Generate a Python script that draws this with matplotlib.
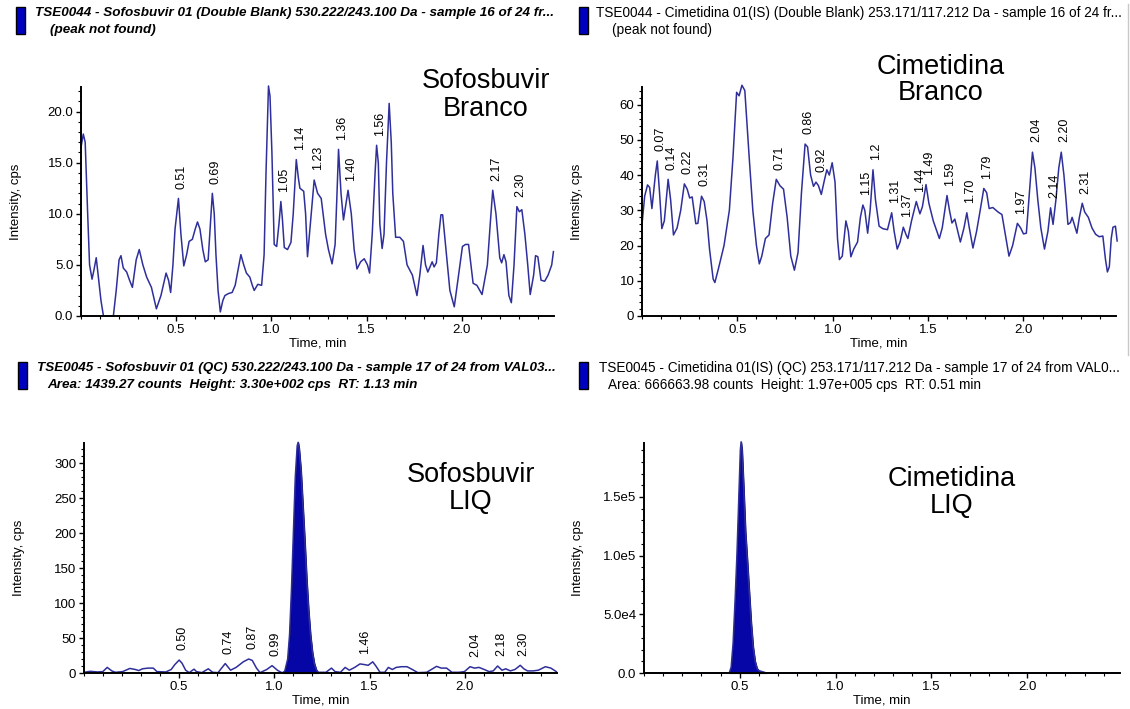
import numpy as np
import matplotlib.pyplot as plt
from matplotlib.patches import Rectangle
from matplotlib.lines import Line2D
from matplotlib.ticker import FixedLocator, MultipleLocator, FuncFormatter

plt.rcParams['font.family'] = ['Liberation Sans', 'DejaVu Sans']

# --- Sofosbuvir branco (double blank) ---
sof_branco_t = [0.000, 0.012, 0.022, 0.035, 0.045, 0.058, 0.068, 0.080, 0.090, 0.105, 0.118, 0.170,
                0.185, 0.200, 0.210, 0.222, 0.240, 0.255, 0.270, 0.290, 0.306, 0.325, 0.345, 0.370,
                0.396, 0.420, 0.447, 0.460, 0.471, 0.483, 0.494, 0.512, 0.525, 0.540, 0.555, 0.568,
                0.585, 0.600, 0.612, 0.625, 0.640, 0.653, 0.668, 0.680, 0.690, 0.700, 0.709, 0.720,
                0.732, 0.745, 0.756, 0.775, 0.794, 0.810, 0.825, 0.840, 0.855, 0.869, 0.887, 0.900,
                0.910, 0.929, 0.949, 0.962, 0.972, 0.985, 0.993, 1.003, 1.015, 1.028, 1.040, 1.050,
                1.058, 1.068, 1.085, 1.103, 1.115, 1.131, 1.142, 1.150, 1.170, 1.180, 1.190, 1.205,
                1.225, 1.243, 1.262, 1.285, 1.300, 1.319, 1.335, 1.345, 1.353, 1.366, 1.379, 1.392,
                1.403, 1.420, 1.435, 1.450, 1.469, 1.488, 1.505, 1.516, 1.530, 1.545, 1.553, 1.562,
                1.570, 1.582, 1.592, 1.605, 1.619, 1.630, 1.638, 1.653, 1.675, 1.694, 1.713, 1.741,
                1.765, 1.780, 1.797, 1.810, 1.822, 1.845, 1.855, 1.867, 1.880, 1.891, 1.900, 1.920,
                1.938, 1.961, 1.980, 2.004, 2.020, 2.036, 2.060, 2.080, 2.107, 2.135, 2.150, 2.163,
                2.180, 2.200, 2.210, 2.222, 2.233, 2.248, 2.261, 2.275, 2.290, 2.303, 2.316, 2.332,
                2.347, 2.360, 2.378, 2.388, 2.400, 2.417, 2.436, 2.454, 2.473, 2.482]
sof_branco_i = [16.5, 17.8, 17.0, 10.0, 5.0, 3.6, 4.5, 5.7, 4.0, 1.5, 0.0, 0.0,
                2.5, 5.5, 5.9, 4.7, 4.3, 3.5, 2.8, 5.5, 6.5, 5.0, 3.8, 2.8,
                0.7, 2.0, 4.2, 3.5, 2.3, 5.0, 8.5, 11.5, 8.0, 4.9, 6.0, 7.3,
                7.5, 8.5, 9.2, 8.5, 6.5, 5.3, 5.5, 9.0, 12.0, 10.0, 6.0, 2.5,
                0.4, 1.5, 2.0, 2.2, 2.3, 3.0, 4.5, 6.0, 5.0, 4.2, 3.8, 3.0,
                2.5, 3.1, 3.0, 6.0, 14.0, 22.5, 21.5, 16.0, 7.0, 6.8, 9.0, 11.2,
                9.5, 6.7, 6.5, 7.2, 10.0, 15.3, 13.5, 12.5, 12.2, 10.0, 5.8, 9.0,
                13.3, 12.0, 11.5, 8.0, 6.5, 5.1, 7.0, 12.0, 16.3, 12.0, 9.4, 11.0,
                12.3, 10.0, 6.5, 4.6, 5.3, 5.6, 5.0, 4.2, 8.0, 14.0, 16.7, 15.0,
                9.0, 6.6, 8.0, 15.0, 20.8, 17.0, 12.0, 7.7, 7.7, 7.3, 5.0, 4.0,
                2.0, 4.0, 6.9, 5.0, 4.3, 5.3, 4.8, 5.2, 8.0, 9.9, 9.9, 6.0,
                2.5, 0.9, 3.5, 6.8, 7.0, 7.0, 3.2, 3.0, 2.1, 5.0, 9.0, 12.3,
                10.0, 5.7, 5.2, 6.0, 5.3, 2.0, 1.3, 5.0, 10.7, 10.2, 10.4, 8.0,
                5.0, 2.1, 4.0, 5.9, 5.8, 3.5, 3.4, 4.0, 5.0, 6.3]
sof_branco_lbl = ['0.51', '0.69', '1.05', '1.14', '1.23', '1.36', '1.40', '1.56', '2.17', '2.30']
sof_branco_lbl_t = [0.512, 0.690, 1.050, 1.131, 1.225, 1.353, 1.403, 1.553, 2.163, 2.290]
sof_branco_lbl_i = [11.5, 12.0, 11.2, 15.3, 13.3, 16.3, 12.3, 16.7, 12.3, 10.7]

# --- Cimetidina branco (double blank) ---
cim_branco_t = [0.000, 0.014, 0.029, 0.040, 0.052, 0.070, 0.080, 0.092, 0.104, 0.117, 0.137, 0.150,
                0.165, 0.184, 0.203, 0.222, 0.237, 0.250, 0.263, 0.282, 0.293, 0.312, 0.326, 0.341,
                0.354, 0.373, 0.382, 0.401, 0.430, 0.458, 0.477, 0.496, 0.509, 0.524, 0.539, 0.562,
                0.581, 0.600, 0.615, 0.628, 0.647, 0.666, 0.685, 0.704, 0.723, 0.742, 0.761, 0.780,
                0.799, 0.818, 0.836, 0.855, 0.868, 0.884, 0.899, 0.912, 0.925, 0.940, 0.956, 0.969,
                0.982, 0.997, 1.012, 1.025, 1.035, 1.050, 1.069, 1.082, 1.095, 1.110, 1.130, 1.145,
                1.158, 1.168, 1.183, 1.196, 1.211, 1.224, 1.243, 1.262, 1.287, 1.309, 1.322, 1.338,
                1.353, 1.370, 1.385, 1.394, 1.413, 1.438, 1.457, 1.470, 1.489, 1.504, 1.527, 1.546,
                1.559, 1.574, 1.599, 1.612, 1.625, 1.640, 1.669, 1.688, 1.703, 1.716, 1.735, 1.754,
                1.773, 1.792, 1.807, 1.820, 1.839, 1.867, 1.887, 1.905, 1.924, 1.943, 1.968, 1.985,
                2.000, 2.015, 2.028, 2.047, 2.060, 2.075, 2.091, 2.110, 2.128, 2.142, 2.155, 2.170,
                2.185, 2.198, 2.212, 2.223, 2.233, 2.246, 2.255, 2.269, 2.280, 2.293, 2.308, 2.321,
                2.340, 2.359, 2.378, 2.397, 2.416, 2.430, 2.440, 2.450, 2.460, 2.469, 2.482, 2.491]
cim_branco_i = [26.0, 34.0, 37.2, 36.5, 30.5, 40.0, 44.0, 35.0, 24.8, 27.0, 38.8, 33.0,
                23.0, 25.0, 30.0, 37.5, 36.0, 33.5, 33.8, 26.2, 26.3, 34.0, 32.5, 27.0,
                19.0, 10.5, 9.5, 13.5, 20.0, 30.0, 45.0, 63.5, 62.5, 65.5, 64.0, 45.0,
                30.0, 20.0, 14.8, 17.0, 22.0, 23.0, 32.0, 38.8, 37.0, 36.0, 28.0, 17.0,
                13.0, 18.0, 35.0, 48.8, 48.0, 40.0, 36.8, 38.0, 37.0, 34.5, 38.5, 41.5,
                40.0, 43.5, 38.0, 22.0, 16.0, 17.0, 27.0, 24.0, 16.8, 19.0, 21.0, 28.0,
                31.5, 30.0, 23.5, 30.0, 41.5, 33.0, 25.5, 24.8, 24.5, 29.3, 24.0, 19.0,
                21.0, 25.2, 23.0, 22.0, 27.0, 32.5, 29.0, 31.0, 37.3, 32.0, 27.0, 24.0,
                22.0, 25.0, 34.2, 30.0, 26.4, 27.5, 21.0, 25.0, 29.3, 25.0, 19.3, 24.0,
                30.0, 36.2, 35.0, 30.5, 30.8, 29.5, 28.8, 23.0, 17.0, 20.0, 26.3, 25.0,
                23.3, 23.5, 33.0, 46.5, 42.0, 33.0, 25.0, 19.0, 24.0, 30.7, 26.0, 33.0,
                42.0, 46.5, 40.0, 33.0, 26.0, 26.5, 28.0, 25.5, 23.5, 28.0, 32.0, 29.5,
                28.0, 25.0, 23.2, 22.5, 22.7, 16.0, 12.5, 14.0, 22.0, 25.2, 25.5, 21.3]
cim_branco_lbl = ['0.07', '0.14', '0.22', '0.31', '0.71', '0.86', '0.92', '1.15', '1.2', '1.31', '1.37',
                  '1.44', '1.49', '1.59', '1.70', '1.79', '1.97', '2.04', '2.14', '2.20', '2.31']
cim_branco_lbl_t = [0.080, 0.137, 0.222, 0.312, 0.704, 0.855, 0.925, 1.158, 1.211, 1.309, 1.370,
                    1.438, 1.489, 1.599, 1.703, 1.792, 1.968, 2.047, 2.142, 2.198, 2.308]
cim_branco_lbl_i = [44.0, 38.8, 37.5, 34.0, 38.8, 48.8, 38.0, 31.5, 41.5, 29.3, 25.2,
                    32.5, 37.3, 34.2, 29.3, 36.2, 26.3, 46.5, 30.7, 46.5, 32.0]

# --- Sofosbuvir LIQ (QC) ---
sof_liq_t = [0.000, 0.033, 0.071, 0.099, 0.122, 0.146, 0.165, 0.203, 0.241, 0.270, 0.288, 0.307,
             0.336, 0.364, 0.383, 0.430, 0.458, 0.477, 0.500, 0.515, 0.534, 0.553, 0.578, 0.591,
             0.619, 0.653, 0.676, 0.704, 0.742, 0.770, 0.799, 0.837, 0.865, 0.884, 0.906, 0.925,
             0.960, 0.988, 1.016, 1.035, 1.045, 1.055, 1.070, 1.080, 1.090, 1.100, 1.110, 1.120,
             1.125, 1.130, 1.140, 1.150, 1.160, 1.170, 1.180, 1.190, 1.200, 1.210, 1.220, 1.230,
             1.243, 1.271, 1.300, 1.319, 1.347, 1.372, 1.394, 1.422, 1.450, 1.474, 1.493, 1.517,
             1.536, 1.555, 1.580, 1.599, 1.620, 1.640, 1.668, 1.697, 1.725, 1.754, 1.800, 1.825,
             1.852, 1.877, 1.905, 1.933, 1.970, 1.999, 2.028, 2.052, 2.075, 2.103, 2.128, 2.150,
             2.173, 2.196, 2.216, 2.240, 2.264, 2.292, 2.311, 2.330, 2.359, 2.387, 2.424, 2.453, 2.481]
sof_liq_i = [1.0, 2.4, 1.5, 2.0, 8.0, 3.0, 1.0, 2.0, 6.5, 5.0, 3.5, 6.0,
             7.0, 7.0, 2.0, 1.5, 5.0, 12.0, 18.5, 14.0, 4.0, 0.5, 5.5, 2.0,
             0.5, 6.0, 1.0, 0.5, 13.5, 4.0, 8.0, 16.0, 20.0, 18.0, 7.0, 0.5,
             5.0, 10.5, 4.0, 1.0, 0.5, 3.0, 20.0, 55.0, 120.0, 200.0, 280.0, 325.0,
             330.0, 322.0, 290.0, 240.0, 190.0, 135.0, 90.0, 55.0, 30.0, 14.0, 5.0, 1.0,
             1.0, 1.0, 7.0, 2.0, 1.0, 8.0, 4.0, 8.0, 13.0, 12.0, 11.0, 16.0,
             9.0, 1.0, 1.0, 8.0, 5.0, 8.0, 9.0, 9.0, 5.0, 0.5, 1.0, 5.0,
             9.5, 7.0, 7.0, 1.0, 1.0, 2.0, 9.0, 7.0, 8.0, 5.0, 2.0, 3.0,
             10.0, 4.0, 6.0, 3.0, 5.0, 11.0, 6.0, 3.0, 3.0, 4.0, 9.0, 7.0, 2.0]
sof_liq_peak = (1.04, 1.23)
sof_liq_lbl = ['0.50', '0.74', '0.87', '0.99', '1.46', '2.04', '2.18', '2.30']
sof_liq_lbl_t = [0.500, 0.742, 0.865, 0.988, 1.460, 2.040, 2.173, 2.292]
sof_liq_lbl_i = [18.5, 13.5, 20.0, 10.5, 13.0, 9.0, 10.0, 11.0]

# --- Cimetidina LIQ (QC) ---
cim_liq_t = [0.000, 0.445, 0.455, 0.465, 0.475, 0.485, 0.495, 0.503, 0.507, 0.512, 0.520,
             0.530, 0.540, 0.550, 0.560, 0.570, 0.580, 0.590, 0.600, 0.620, 0.640, 2.480]
cim_liq_i = [0, 0, 5000, 25000, 60000, 100000, 150000, 190000, 197000, 190000, 160000,
             120000, 95000, 68000, 42000, 22000, 10000, 4000, 2000, 1000, 0, 0]
cim_liq_peak = (0.44, 0.64)

headers = [
    ("TSE0044 - Sofosbuvir 01 (Double Blank) 530.222/243.100 Da - sample 16 of 24 fr...",
     "(peak not found)"),
    ("TSE0044 - Cimetidina 01(IS) (Double Blank) 253.171/117.212 Da - sample 16 of 24 fr...",
     "(peak not found)"),
    ("TSE0045 - Sofosbuvir 01 (QC) 530.222/243.100 Da - sample 17 of 24 from VAL03...",
     "Area: 1439.27 counts  Height: 3.30e+002 cps  RT: 1.13 min"),
    ("TSE0045 - Cimetidina 01(IS) (QC) 253.171/117.212 Da - sample 17 of 24 from VAL0...",
     "Area: 666663.98 counts  Height: 1.97e+005 cps  RT: 0.51 min"),
]
captions = ["Sofosbuvir\nBranco", "Cimetidina\nBranco", "Sofosbuvir\nLIQ", "Cimetidina\nLIQ"]

W, H = 1130, 709
LINE = '#2f2f9c'
FILL = '#0606a6'

fig = plt.figure(figsize=(W / 100, H / 100), dpi=100)
fig.patch.set_facecolor('white')


def px_axes(x0, y0, x1, y1):
    # pixel box (left, top, right, bottom) -> figure fraction
    return fig.add_axes([x0 / W, 1 - y1 / H, (x1 - x0) / W, (y1 - y0) / H])


def estilo(ax, ytop, ystep, yfmt):
    ax.set_xlim(0, 2.485)
    ax.set_ylim(0, ytop)
    for s in ['top', 'right']:
        ax.spines[s].set_visible(False)
    for s in ['left', 'bottom']:
        ax.spines[s].set_linewidth(1.4)
    ax.xaxis.set_major_locator(FixedLocator([0.5, 1.0, 1.5, 2.0]))
    ax.xaxis.set_minor_locator(MultipleLocator(0.1))
    ax.xaxis.set_major_formatter(FuncFormatter(lambda v, p: f"{v:.1f}"))
    ax.yaxis.set_major_locator(MultipleLocator(ystep))
    ax.yaxis.set_minor_locator(MultipleLocator(ystep / 5))
    ax.yaxis.set_major_formatter(FuncFormatter(yfmt))
    ax.tick_params(which='major', length=3.5, width=1.0, pad=2, labelsize=9.5)
    ax.tick_params(which='minor', length=2, width=0.8)
    ax.set_xlabel('Time, min', fontsize=9.5, labelpad=1.5)
    ax.set_ylabel('Intensity, cps', fontsize=9.5)
    ax.yaxis.set_label_coords(-0.125, 0.5)


def rotulos(ax, lbl, t, i):
    for s, x, y in zip(lbl, t, i):
        ax.annotate(s, xy=(x, y), xytext=(2.5, 7), textcoords='offset points',
                    rotation=90, ha='center', va='bottom', fontsize=9)


ax1 = px_axes(81, 87, 554, 316)
ax1.plot(sof_branco_t, sof_branco_i, color=LINE, lw=1.1, clip_on=False)
estilo(ax1, 22.4, 5, lambda v, p: f"{v:.1f}")
rotulos(ax1, sof_branco_lbl, sof_branco_lbl_t, sof_branco_lbl_i)

ax2 = px_axes(642, 87, 1116, 316)
ax2.plot(cim_branco_t, cim_branco_i, color=LINE, lw=1.1, clip_on=False)
estilo(ax2, 65, 10, lambda v, p: f"{v:.0f}")
rotulos(ax2, cim_branco_lbl, cim_branco_lbl_t, cim_branco_lbl_i)

ax3 = px_axes(84, 443, 557, 673)
t3 = np.array(sof_liq_t)
i3 = np.array(sof_liq_i)
m3 = (t3 >= sof_liq_peak[0]) & (t3 <= sof_liq_peak[1])
ax3.fill_between(t3[m3], 0, i3[m3], color=FILL, edgecolor='#00005a', lw=0.8, clip_on=False)
ax3.plot(t3, i3, color=LINE, lw=1.1, clip_on=False)
estilo(ax3, 329, 50, lambda v, p: f"{v:.0f}")
rotulos(ax3, sof_liq_lbl, sof_liq_lbl_t, sof_liq_lbl_i)


def fmt_e(v, p):
    if v <= 0:
        return "0.0"
    e = int(np.floor(np.log10(v)))
    return f"{v / 10 ** e:.1f}e{e}"


ax4 = px_axes(644, 443, 1120, 673)
t4 = np.array(cim_liq_t, dtype=float)
i4 = np.array(cim_liq_i, dtype=float)
m4 = (t4 >= cim_liq_peak[0]) & (t4 <= cim_liq_peak[1])
ax4.fill_between(t4[m4], 0, i4[m4], color=FILL, edgecolor='#00005a', lw=0.8, clip_on=False)
ax4.plot(t4, i4, color=LINE, lw=1.1, clip_on=False)
estilo(ax4, 1.96e5, 5e4, fmt_e)

# headers with the small blue trace markers
# (x texto, y linha 1, recuo linha 2, x marcador, y marcador, negrito)
head_pos = [(35, 13, 15, 16, 7, True), (596, 13, 16, 579, 7, False),
            (37, 368, 10, 18, 362, True), (599, 368, 9, 579, 362, False)]
for (l1, l2), (hx, hy, rec, rx, ry, negrito) in zip(headers, head_pos):
    kw = dict(fontweight='bold', style='italic', fontsize=9.7) if negrito else dict(fontsize=9.85)
    fig.text(hx / W, 1 - hy / H, l1, va='center', ha='left', **kw)
    fig.text((hx + rec) / W, 1 - (hy + 17) / H, l2, va='center', ha='left', **kw)
    fig.add_artist(Rectangle((rx / W, 1 - (ry + 27) / H), 9 / W, 27 / H,
                             transform=fig.transFigure, facecolor='#0000c0',
                             edgecolor='black', lw=1.0))

# thin grey frame edge at the right of the upper panels
fig.add_artist(Line2D([1128 / W, 1128 / W], [1 - 4 / H, 1 - 355 / H],
                      transform=fig.transFigure, color='#c8c8c8', lw=1.0))

cap_pos = [(486, 95), (941, 80), (471, 489), (952, 492)]
for txt, (cx, cy) in zip(captions, cap_pos):
    fig.text(cx / W, 1 - cy / H, txt, ha='center', va='center', fontsize=19.5,
             linespacing=1.05, multialignment='center')

fig.savefig('out.png', dpi=100)
